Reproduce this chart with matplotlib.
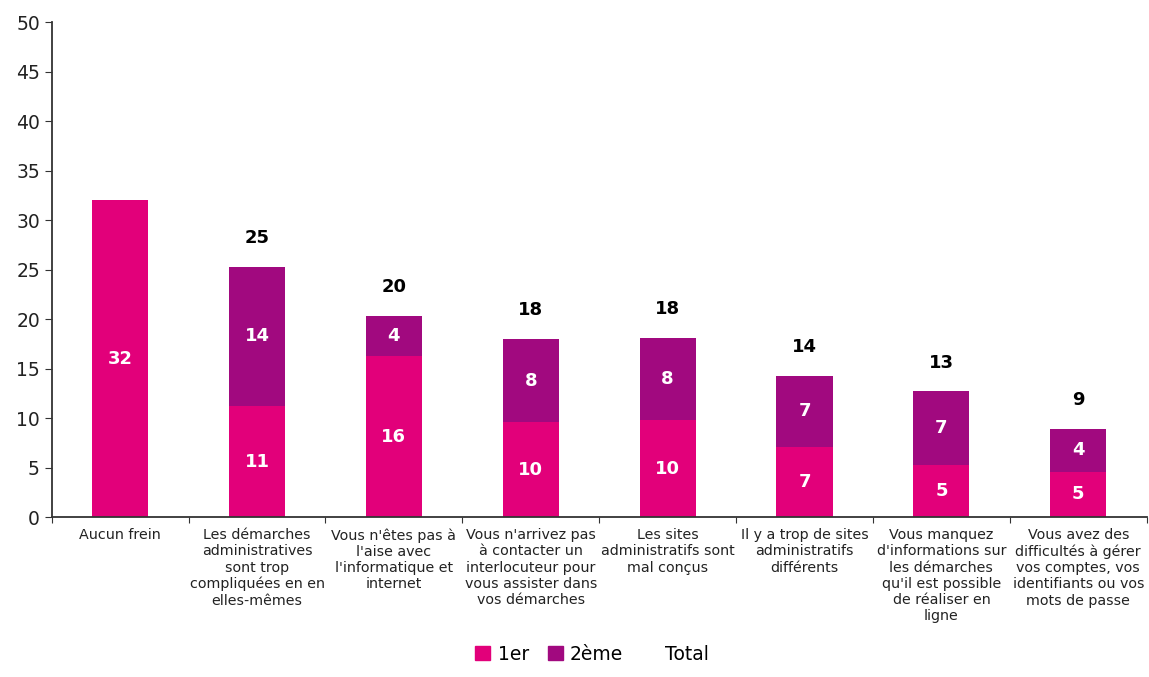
import numpy as np
import matplotlib.pyplot as plt
from matplotlib.patches import Patch
from matplotlib.lines import Line2D

categories = [
    "Aucun frein",
    "Les démarches\nadministratives\nsont trop\ncompliquées en en\nelles-mêmes",
    "Vous n'êtes pas à\nl'aise avec\nl'informatique et\ninternet",
    "Vous n'arrivez pas\nà contacter un\ninterlocuteur pour\nvous assister dans\nvos démarches",
    "Les sites\nadministratifs sont\nmal conçus",
    "Il y a trop de sites\nadministratifs\ndifférents",
    "Vous manquez\nd'informations sur\nles démarches\nqu'il est possible\nde réaliser en\nligne",
    "Vous avez des\ndifficultés à gérer\nvos comptes, vos\nidentifiants ou vos\nmots de passe",
]
premier = [32.0, 11.2, 16.3, 9.6, 9.8, 7.1, 5.3, 4.6]
deuxieme = [0.0, 14.1, 4.0, 8.4, 8.3, 7.2, 7.4, 4.3]
total_labels = [None, 25, 20, 18, 18, 14, 13, 9]

c1 = '#E2007A'
c2 = '#A1097F'

fig = plt.figure(figsize=(11.49, 6.77), dpi=100)
ax = fig.add_axes([0.045, 0.236, 0.953, 0.7315])

x = np.arange(len(categories))
w = 0.41
ax.bar(x, premier, width=w, color=c1)
ax.bar(x, deuxieme, width=w, bottom=premier, color=c2)

# values inside bars
for i in range(len(x)):
    ax.text(x[i], premier[i] / 2, f"{premier[i]:.0f}", ha='center', va='center',
            color='white', fontsize=13, fontweight='bold')
    if deuxieme[i] > 0:
        ax.text(x[i], premier[i] + deuxieme[i] / 2, f"{deuxieme[i]:.0f}", ha='center',
                va='center', color='white', fontsize=13, fontweight='bold')
    if total_labels[i] is not None:
        ax.text(x[i], premier[i] + deuxieme[i] + 2.9, str(total_labels[i]), ha='center',
                va='center', color='black', fontsize=13, fontweight='bold')

ax.set_xlim(-0.5, len(x) - 0.5)
ax.set_ylim(0, 50)
ax.set_yticks(np.arange(0, 51, 5))
ax.tick_params(axis='y', labelsize=13.5, length=5, color='#333333', labelcolor='#222222')

ax.set_xticks(np.arange(len(x) + 1) - 0.5)
ax.set_xticklabels([])
ax.tick_params(axis='x', length=4, color='#333333')
for i, lab in enumerate(categories):
    ax.text(x[i], -1.1, lab, ha='center', va='top', fontsize=10.3,
            color='#222222', linespacing=1.2)

for s in ['top', 'right']:
    ax.spines[s].set_visible(False)
for s in ['left', 'bottom']:
    ax.spines[s].set_color('#333333')
    ax.spines[s].set_linewidth(1.3)

handles = [Patch(color=c1), Patch(color=c2), Line2D([], [], linestyle='none')]
fig.legend(handles, ['1er', '2ème', 'Total'], loc='lower center', bbox_to_anchor=(0.515, -0.005),
           ncol=3, frameon=False, fontsize=13.5, handlelength=0.8, handleheight=0.8,
           handletextpad=0.4, columnspacing=1.0)

fig.savefig('out.png', dpi=100)
